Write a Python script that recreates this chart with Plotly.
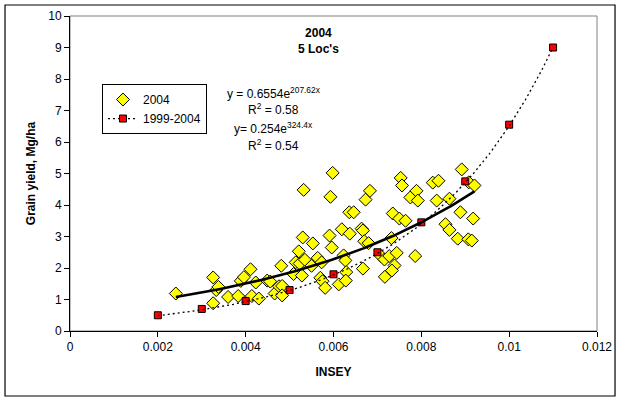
import numpy as np
import plotly.graph_objects as go

# ---- data ----
insey_2004 = [0.00241, 0.00326, 0.00333, 0.00338, 0.00326, 0.00360, 0.00383, 0.00389, 0.00396, 0.00411,
              0.00414, 0.00430, 0.00423, 0.00449, 0.00456, 0.00466, 0.00476, 0.00483, 0.00483, 0.00481,
              0.00509, 0.00528, 0.00514, 0.00523, 0.00535, 0.00521, 0.00530, 0.00532, 0.00553, 0.00550,
              0.00564, 0.00573, 0.00570, 0.00575, 0.00581, 0.00591, 0.00593, 0.00598, 0.00596, 0.00612,
              0.00619, 0.00623, 0.00627, 0.00629, 0.00628, 0.00636, 0.00646, 0.00637, 0.00664, 0.00667,
              0.00667, 0.00670, 0.00680, 0.00673, 0.00683, 0.00708, 0.00716, 0.00717, 0.00727, 0.00744,
              0.00732, 0.00739, 0.00733, 0.00735, 0.00750, 0.00764, 0.00753, 0.00756, 0.00775, 0.00789,
              0.00792, 0.00786, 0.00826, 0.00839, 0.00835, 0.00855, 0.00864, 0.00864, 0.00883, 0.00892,
              0.00889, 0.00908, 0.00921, 0.00918, 0.00907, 0.00915]
yield_2004 = [1.19, 1.70, 1.30, 1.40, 0.88, 1.08, 1.11, 1.59, 1.71, 1.96,
              1.11, 1.03, 1.54, 1.60, 1.57, 1.19, 1.42, 1.43, 1.13, 2.07,
              1.81, 1.76, 2.18, 2.14, 2.26, 2.53, 2.97, 4.48, 2.78, 2.07,
              2.32, 2.18, 1.69, 1.58, 1.37, 3.03, 4.26, 5.02, 2.65, 1.48,
              3.23, 2.40, 2.24, 1.87, 1.60, 3.77, 3.77, 3.09, 3.25, 3.19,
              1.98, 2.85, 2.79, 4.17, 4.45, 2.38, 2.27, 1.72, 2.38, 2.48,
              2.95, 2.08, 1.92, 3.73, 3.57, 3.50, 4.86, 4.62, 4.24, 4.45,
              4.14, 2.38, 4.71, 4.77, 4.14, 3.39, 3.21, 4.20, 2.93, 5.13,
              3.77, 4.72, 4.62, 3.57, 2.91, 2.87]

insey_9904 = [0.002, 0.003, 0.004, 0.005, 0.006, 0.007, 0.008, 0.009, 0.010, 0.011]
yield_9904 = [0.50, 0.70, 0.95, 1.30, 1.80, 2.50, 3.45, 4.75, 6.55, 9.00]

# exponential trendlines shown on the chart: y = a * exp(b x)
fit_2004_a, fit_2004_b = 0.6554, 207.62
fit_9904_a, fit_9904_b = 0.254, 324.4
r2_2004 = 0.58
r2_9904 = 0.54

x_tick_vals = [0, 0.002, 0.004, 0.006, 0.008, 0.01, 0.012]
x_tick_text = ["0", "0.002", "0.004", "0.006", "0.008", "0.01", "0.012"]
y_tick_vals = list(range(0, 11))

FONT = "Liberation Sans, Arial, sans-serif"

# trend curves spanning each series' data range
xt1 = np.linspace(min(insey_2004), max(insey_2004), 200)
yt1 = fit_2004_a * np.exp(fit_2004_b * xt1)
xt2 = np.linspace(min(insey_9904), max(insey_9904), 200)
yt2 = fit_9904_a * np.exp(fit_9904_b * xt2)

fig = go.Figure()
fig.add_trace(go.Scatter(
    x=insey_2004, y=yield_2004, mode="markers", name="2004",
    marker=dict(symbol="diamond", size=10, color="#FFFF00",
                line=dict(color="black", width=1))))
fig.add_trace(go.Scatter(
    x=insey_9904, y=yield_9904, mode="markers", name="1999-2004", showlegend=False,
    marker=dict(symbol="square", size=7, color="#FF0000",
                line=dict(color="black", width=1))))
# legend entry for 1999-2004 (dotted line + square)
fig.add_trace(go.Scatter(
    x=[None], y=[None], mode="lines+markers", name="1999-2004",
    line=dict(color="black", width=1.3, dash="2px,3px"),
    marker=dict(symbol="square", size=7, color="#FF0000",
                line=dict(color="black", width=1))))
fig.add_trace(go.Scatter(
    x=xt1, y=yt1, mode="lines", showlegend=False, hoverinfo="skip",
    line=dict(color="black", width=2.6)))
fig.add_trace(go.Scatter(
    x=xt2, y=yt2, mode="lines", showlegend=False, hoverinfo="skip",
    line=dict(color="black", width=1.3, dash="2px,3px")))

ann_font = dict(family=FONT, size=12, color="black")
EQ_X = 0.387
annotations = [
    dict(x=0.4706, y=0.922, xref="paper", yref="paper", showarrow=False,
         xanchor="center", yanchor="middle",
         text="<b>2004<br>5 Loc's</b>", font=ann_font, align="center"),
    dict(x=EQ_X, y=0.725, xref="paper", yref="paper", showarrow=False,
         xanchor="center", yanchor="bottom",
         text=f"y = {fit_2004_a}e<sup>{fit_2004_b}x</sup>", font=ann_font),
    dict(x=EQ_X, y=0.672, xref="paper", yref="paper", showarrow=False,
         xanchor="center", yanchor="bottom",
         text=f"R<sup>2</sup> = {r2_2004}", font=ann_font),
    dict(x=EQ_X, y=0.612, xref="paper", yref="paper", showarrow=False,
         xanchor="center", yanchor="bottom",
         text=f"y= {fit_9904_a}e<sup>{fit_9904_b}x</sup>", font=ann_font),
    dict(x=EQ_X, y=0.558, xref="paper", yref="paper", showarrow=False,
         xanchor="center", yanchor="bottom",
         text=f"R<sup>2</sup> = {r2_9904}", font=ann_font),
]

shapes = [
    # plot-area border (gray)
    dict(type="rect", xref="paper", yref="paper", x0=0, y0=0, x1=1, y1=1,
         line=dict(color="#808080", width=1), layer="below"),
    # outer chart border
    dict(type="rect", xref="paper", yref="paper", x0=-0.1233, y0=-0.2063,
         x1=1.0342, y1=1.0349, line=dict(color="black", width=1.2), layer="below"),
]

fig.update_layout(
    width=620, height=399,
    margin=dict(l=70, r=23, t=16, b=68, autoexpand=False),
    paper_bgcolor="white", plot_bgcolor="white",
    font=dict(family=FONT, size=12, color="black"),
    showlegend=True,
    legend=dict(x=0.0607, y=0.784, xanchor="left", yanchor="top",
                bgcolor="white", bordercolor="black", borderwidth=1,
                font=dict(family=FONT, size=12), tracegroupgap=0),
    annotations=annotations,
    shapes=shapes,
    xaxis=dict(range=[0, 0.012], tickvals=x_tick_vals, ticktext=x_tick_text,
               automargin=False,
               showgrid=False, zeroline=False, showline=True, linecolor="black",
               linewidth=1, ticks="outside", ticklen=5, tickcolor="black",
               tickfont=dict(family=FONT, size=12),
               title=dict(text="<b>INSEY</b>", font=dict(family=FONT, size=12),
                          standoff=14)),
    yaxis=dict(range=[0, 10], tickvals=y_tick_vals,
               automargin=False,
               showgrid=False, zeroline=False, showline=True, linecolor="black",
               linewidth=1, ticks="outside", ticklen=5, tickcolor="black",
               tickfont=dict(family=FONT, size=12),
               title=dict(text="<b>Grain yield, Mg/ha</b>",
                          font=dict(family=FONT, size=12), standoff=10)),
)

fig.write_html("out.html",
               config={"displayModeBar": False},
               post_script="document.body.style.margin='0';document.body.style.overflow='hidden';")
